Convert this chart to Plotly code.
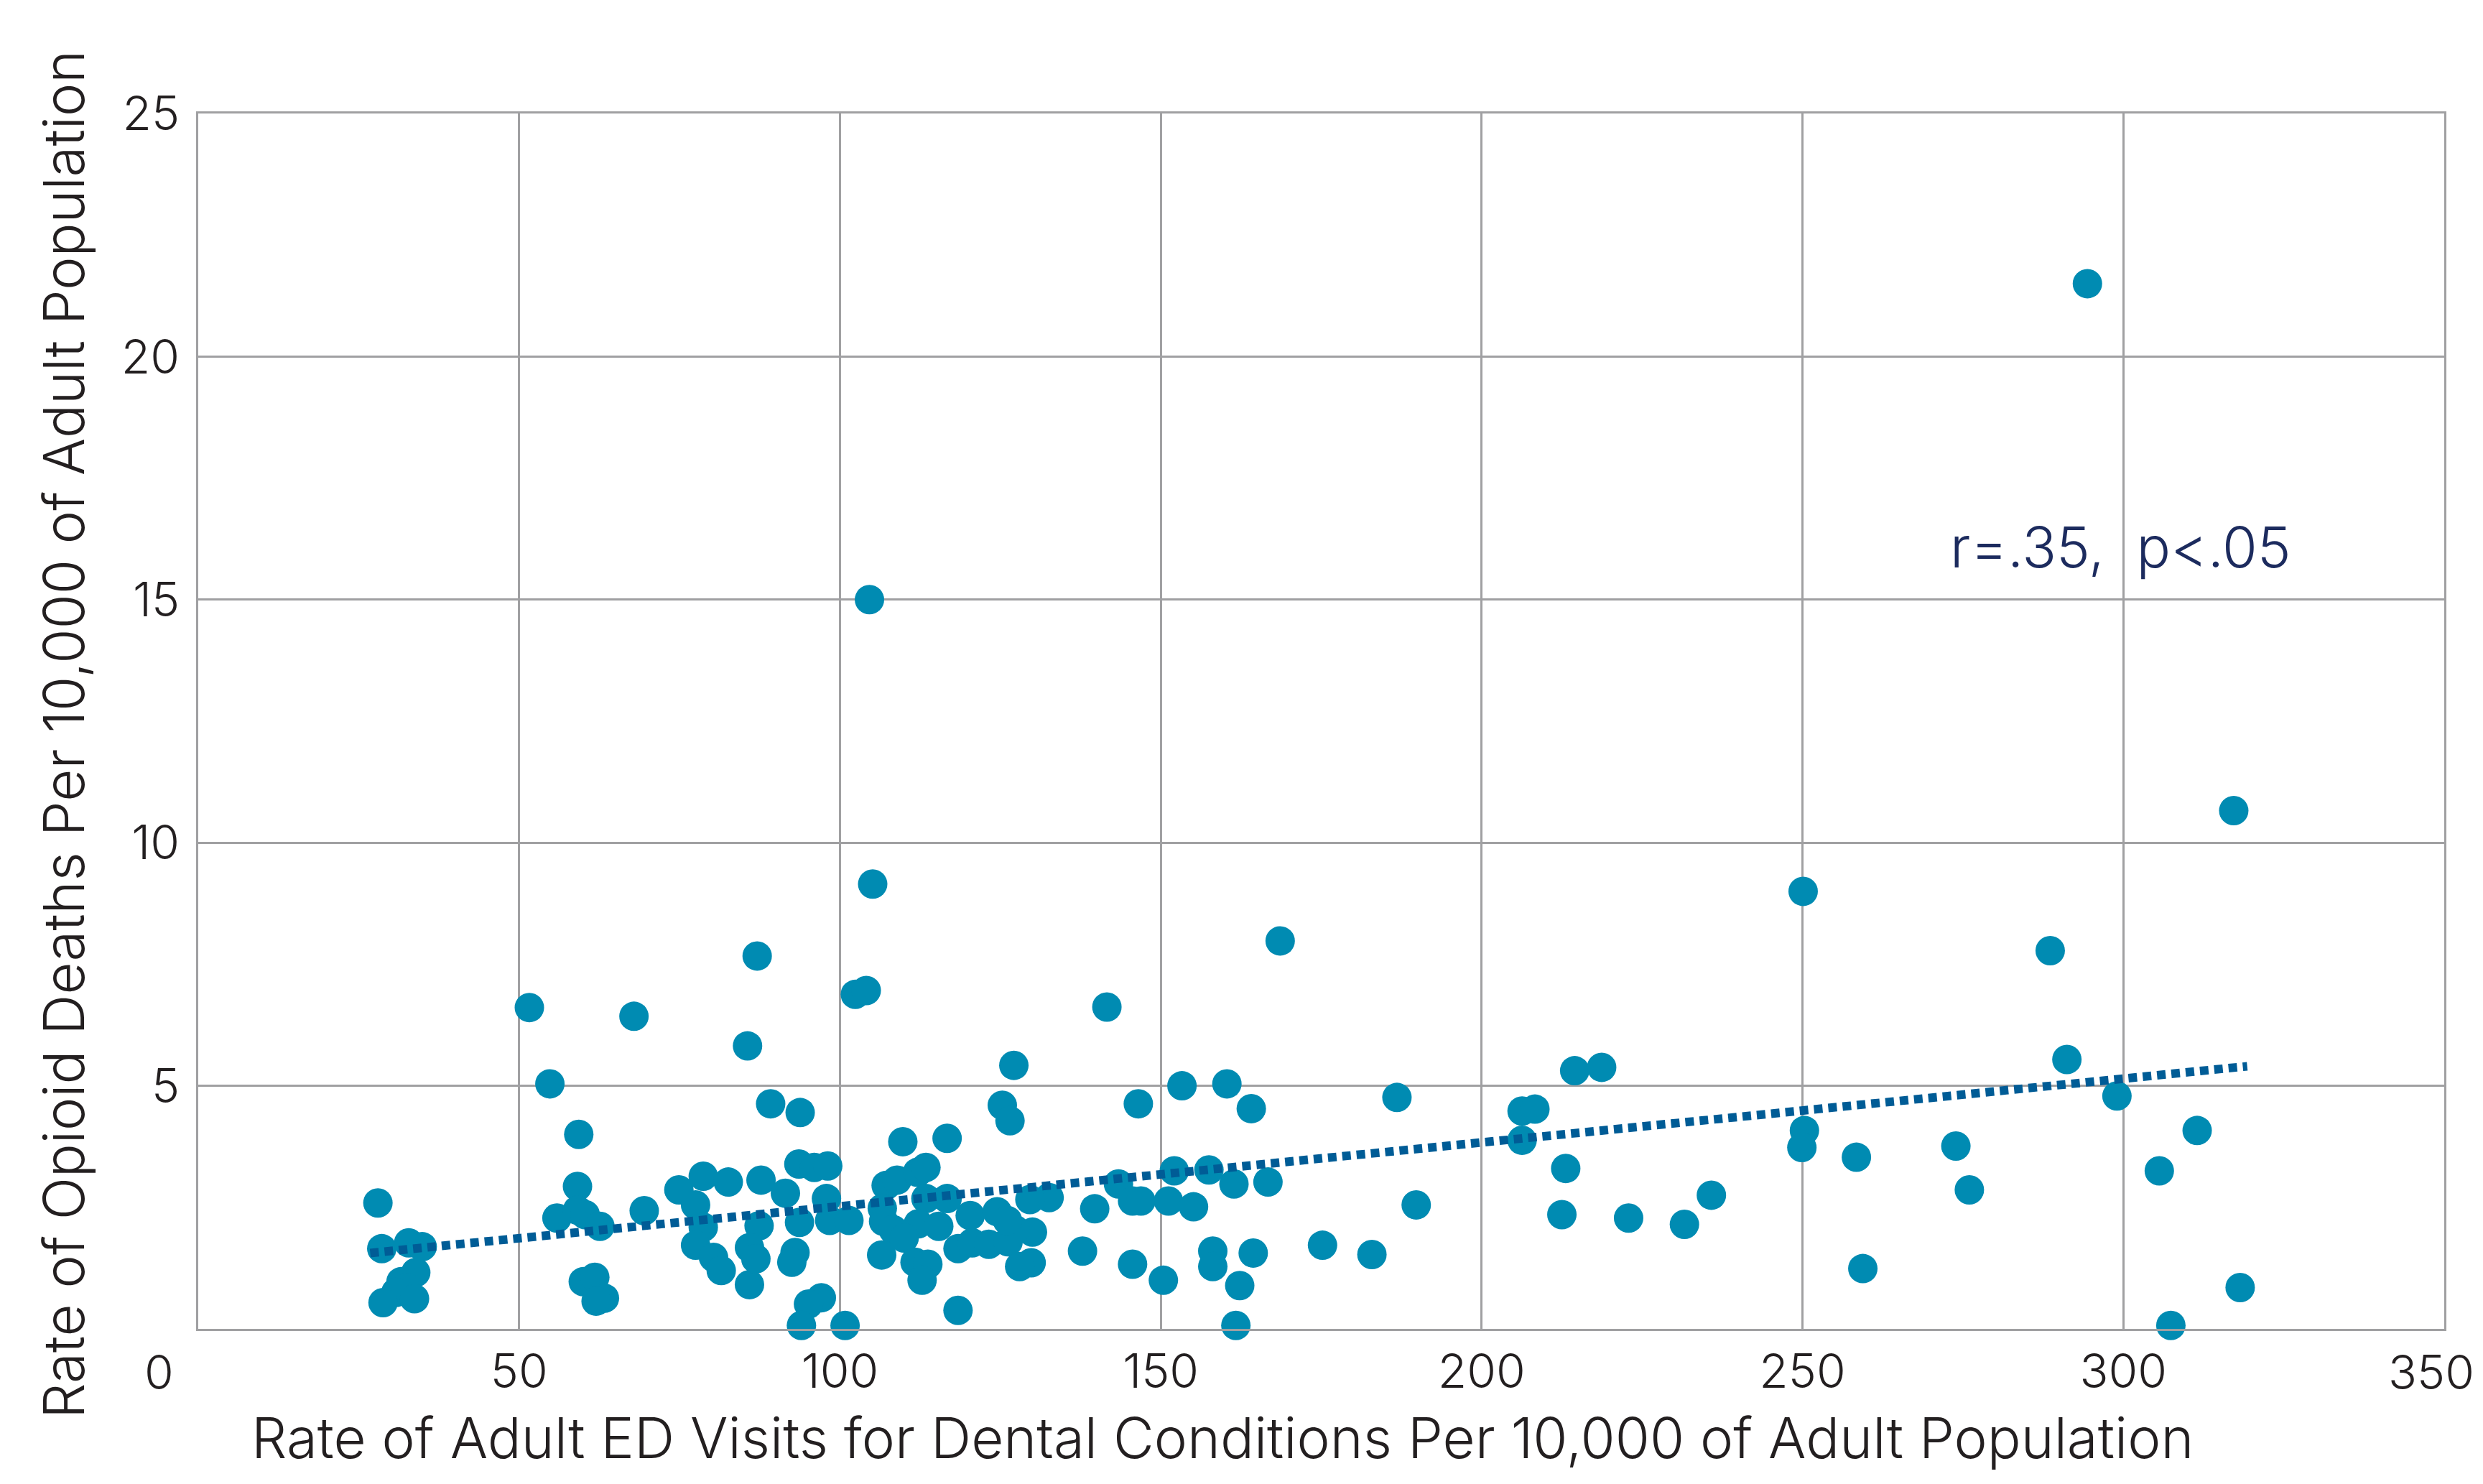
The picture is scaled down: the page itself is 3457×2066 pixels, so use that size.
import plotly.graph_objects as go

# Rate of adult ED visits for dental conditions per 10,000 adults (x)
ed_visits = [
    28.0, 28.6, 32.8, 34.9, 33.9, 31.6, 32.5, 30.8, 28.8, 33.7,
    51.6, 67.9, 54.8, 59.3, 59.1, 55.9, 59.1, 60.3, 62.6, 69.5, 60.0, 61.8, 63.3, 62.0,
    74.9, 78.7, 82.6, 87.7, 77.5, 78.7, 77.5, 80.3, 81.5, 85.9, 87.4, 85.9, 86.9, 87.1, 85.6, 89.2,
    93.8, 93.6, 96.0, 98.1, 91.5, 97.9, 93.7, 98.4, 93.0, 92.5, 97.1, 95.1, 94.0,
    100.8, 101.4, 102.4, 104.1, 104.6, 105.1, 109.8, 116.7, 107.2, 108.9, 112.1, 113.4,
    106.6, 106.8, 108.3, 113.4, 116.7, 112.2, 115.4, 120.3, 110.0, 118.4, 120.6,
    106.5, 111.7, 113.7, 112.8, 118.4,
    125.3, 126.5, 127.1, 124.5, 132.6, 129.6, 130.0, 127.3, 123.2, 126.2, 129.8, 128.0, 126.1,
    137.8, 139.7,
    141.6, 143.4, 146.5, 153.3, 160.3, 164.1, 152.1, 157.5, 161.4, 166.7, 145.6, 146.9, 151.2,
    155.1, 145.6, 150.4, 158.1, 158.1, 164.4, 162.3, 161.7, 168.6,
    175.2, 182.9, 186.8, 189.8, 206.3, 208.3, 214.5, 218.7, 206.3, 213.1, 212.5, 222.9, 231.6, 235.8,
    250.1, 250.3, 249.9, 258.4, 259.4, 273.9, 276.0, 288.6, 291.2, 294.4, 299.0, 305.6, 307.4,
    311.5, 317.2, 318.2,
]

# Rate of opioid deaths per 10,000 adults (y)
opioid_deaths = [
    2.59, 1.65, 1.77, 1.69, 1.16, 0.97, 0.85, 0.75, 0.54, 0.62,
    6.61, 6.43, 5.04, 4.00, 2.93, 2.28, 2.44, 2.35, 2.11, 2.43, 0.97, 1.06, 0.63, 0.57,
    2.86, 3.14, 3.02, 3.06, 2.55, 2.09, 1.72, 1.47, 1.20, 0.91, 2.12, 1.67, 1.44, 7.67, 5.82, 4.63,
    4.45, 3.39, 3.32, 3.35, 2.79, 2.68, 2.19, 2.23, 1.57, 1.37, 0.64, 0.51, 0.07,
    0.07, 2.23, 6.88, 6.96, 15.00, 9.15, 3.85, 3.92, 2.95, 3.06, 3.22, 3.32,
    2.48, 2.21, 2.04, 2.68, 2.68, 2.16, 2.11, 2.33, 1.87, 1.65, 1.77,
    1.52, 1.37, 1.33, 1.00, 0.38,
    4.60, 4.28, 5.42, 2.41, 2.70, 2.66, 1.99, 2.04, 1.74, 1.79, 1.36, 1.28, 2.23,
    1.60, 2.47,
    6.62, 2.98, 4.63, 5.00, 5.04, 4.53, 3.25, 3.27, 2.98, 3.02, 2.63, 2.63, 2.63,
    2.51, 1.33, 1.00, 1.60, 1.28, 1.56, 0.89, 0.07, 7.98,
    1.72, 1.53, 4.76, 2.55, 4.48, 4.52, 5.31, 5.38, 3.88, 3.30, 2.35, 2.28, 2.15, 2.75,
    9.00, 4.08, 3.73, 3.53, 1.24, 3.76, 2.86, 7.78, 5.54, 21.50, 4.79, 3.25, 0.07,
    4.08, 10.66, 0.85,
]

# Linear trend
trend_x = [26.8, 319.3]
trend_slope = 0.01313
trend_intercept = 1.208
trend_y = [trend_intercept + trend_slope * v for v in trend_x]

x_ticks = [50, 100, 150, 200, 250, 300]
x_max = 350
y_ticks = [5, 10, 15, 20, 25]
y_max = 25

stat_label = "r=.35,  p&lt;.05"
x_title = "Rate of Adult ED Visits for Dental Conditions Per 10,000 of Adult Population"
y_title = "Rate of Opioid Deaths Per 10,000 of Adult Population"

FONT = "Inter, Roboto, Liberation Sans, sans-serif"
TEXT_COLOR = "#231f20"
GRID = "#a0a0a2"

# figure sits inside the page body (8px default margin)
FIG_W, FIG_H = 3441, 2050
ML, MR, MT, MB = 268, 46, 150, 208

fig = go.Figure()
fig.add_trace(go.Scatter(
    x=ed_visits, y=opioid_deaths, mode="markers",
    marker=dict(size=41, color="#008bb2", line=dict(width=0)),
    showlegend=False, cliponaxis=False,
))
fig.add_trace(go.Scatter(
    x=trend_x, y=trend_y, mode="lines",
    line=dict(color="#005c96", width=12, dash="12px,8px"),
    showlegend=False,
))

tick_font = dict(family=FONT, size=66, color=TEXT_COLOR, weight=300)

fig.update_layout(
    width=FIG_W, height=FIG_H, autosize=False,
    margin=dict(l=ML, r=MR, t=MT, b=MB, autoexpand=False),
    paper_bgcolor="white", plot_bgcolor="white",
    font=dict(family=FONT, size=66, color=TEXT_COLOR, weight=300),
    xaxis=dict(
        range=[0, x_max], tickvals=x_ticks, ticktext=[str(v) for v in x_ticks],
        showgrid=True, gridcolor=GRID, gridwidth=2.5,
        showline=True, linecolor=GRID, linewidth=2.5, mirror=True,
        zeroline=False, ticks="", ticklabelstandoff=0, automargin=False,
        tickfont=tick_font,
    ),
    yaxis=dict(
        range=[0, y_max], tickvals=y_ticks, ticktext=[str(v) for v in y_ticks],
        showgrid=True, gridcolor=GRID, gridwidth=2.5,
        showline=True, linecolor=GRID, linewidth=2.5, mirror=True,
        zeroline=False, ticks="", ticklabelstandoff=10, automargin=False,
        tickfont=tick_font,
    ),
    annotations=[
        dict(text=stat_label, x=299.6, y=16.09, xref="x", yref="y",
             xanchor="center", yanchor="middle", showarrow=False,
             font=dict(family=FONT, size=79, color="#1c2b5e", weight=300)),
        dict(text="0", x=0, y=0, xref="x", yref="y", xanchor="right", yanchor="middle",
             xshift=-32, yshift=-60, showarrow=False, font=tick_font),
        dict(text=str(x_max), x=x_max, y=0, xref="x", yref="y", xanchor="right",
             yanchor="middle", xshift=44, yshift=-60, showarrow=False, font=tick_font),
        dict(text=x_title, x=1694, y=1994, xref="paper", yref="paper", showarrow=False,
             xanchor="center", yanchor="middle",
             font=dict(family=FONT, size=78, color=TEXT_COLOR, weight=300)),
        dict(text=y_title, x=80, y=1015, xref="paper", yref="paper", showarrow=False,
             xanchor="center", yanchor="middle", textangle=-90,
             font=dict(family=FONT, size=78, color=TEXT_COLOR, weight=300)),
    ],
)

# convert pixel positions of title annotations into paper coordinates
pw = FIG_W - ML - MR
ph = FIG_H - MT - MB
for ann in fig.layout.annotations[3:]:
    ann.x = (ann.x - ML) / pw
    ann.y = 1 - (ann.y - MT) / ph

fig.write_html("out.html")
